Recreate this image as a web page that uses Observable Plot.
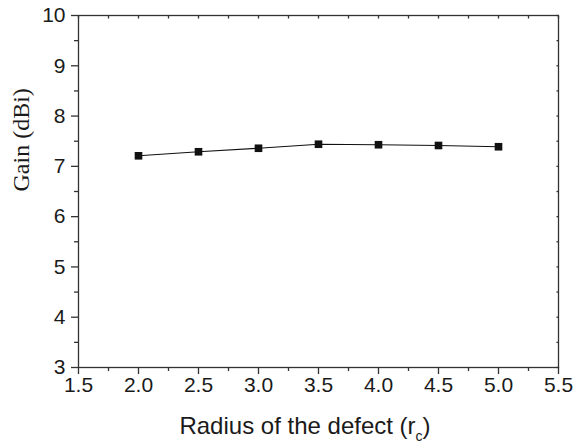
<!DOCTYPE html>
<html>
<head>
<meta charset="utf-8">
<script src="https://cdn.jsdelivr.net/npm/d3@7"></script>
<script src="https://cdn.jsdelivr.net/npm/@observablehq/plot@0.6"></script>
<style>
  html, body { margin: 0; padding: 0; background: #fff; }
  #chart svg { display: block; }
</style>
</head>
<body>
<div id="chart"></div>
<script>
const radius = [2.0, 2.5, 3.0, 3.5, 4.0, 4.5, 5.0];
const gain = [7.21, 7.29, 7.36, 7.44, 7.43, 7.415, 7.39];
const xMajor = [1.5, 2.0, 2.5, 3.0, 3.5, 4.0, 4.5, 5.0, 5.5];
const xMinor = [1.75, 2.25, 2.75, 3.25, 3.75, 4.25, 4.75, 5.25];
const yMajor = [3, 4, 5, 6, 7, 8, 9, 10];
const yMinor = [3.5, 4.5, 5.5, 6.5, 7.5, 8.5, 9.5];
const xLabel = "Radius of the defect (r";
const xLabelSub = "c";
const yLabel = "Gain (dBi)";

const data = radius.map((r, i) => ({r, g: gain[i]}));
const font = "'Liberation Sans', Arial, sans-serif";
const axisColor = "#333";

const plot = Plot.plot({
  width: 574,
  height: 447,
  marginLeft: 78,
  marginRight: 16,
  marginTop: 15,
  marginBottom: 80,
  style: {fontFamily: font, background: "#fff", color: "#1a1a1a"},
  x: {domain: [1.5, 5.5]},
  y: {domain: [3, 10]},
  marks: [
    Plot.frame({stroke: axisColor, strokeWidth: 1.3}),
    Plot.axisX({ticks: xMajor, tickSize: 7, tickPadding: 3, tickFormat: d3.format(".1f"), fontSize: 21, label: null, stroke: axisColor, strokeWidth: 1.3, fill: "#1a1a1a"}),
    Plot.axisX({ticks: xMinor, tickSize: 4, text: null, label: null, stroke: axisColor, strokeWidth: 1.3}),
    Plot.axisX({anchor: "top", ticks: xMajor.concat(xMinor), tickSize: -2.5, text: null, label: null, stroke: axisColor, strokeWidth: 1.3}),
    Plot.axisY({ticks: yMajor, tickSize: 7, tickPadding: 6, tickFormat: d3.format("d"), fontSize: 21, label: null, stroke: axisColor, strokeWidth: 1.3, fill: "#1a1a1a"}),
    Plot.axisY({ticks: yMinor, tickSize: 4, text: null, label: null, stroke: axisColor, strokeWidth: 1.3}),
    Plot.axisY({anchor: "right", ticks: yMajor.concat(yMinor), tickSize: -2.5, text: null, label: null, stroke: axisColor, strokeWidth: 1.3}),
    Plot.line(data, {x: "r", y: "g", stroke: "#111", strokeWidth: 1.1}),
    Plot.dot(data, {x: "r", y: "g", symbol: "square", r: 4.3, fill: "#111", stroke: "none"}),
    Plot.text([yLabel], {frameAnchor: "left", dx: -57, rotate: -90, fontFamily: "'Liberation Serif', 'Times New Roman', serif", fontSize: 24, fill: "#1a1a1a"})
  ]
});

// X axis title with subscript
const svg = d3.select(plot);
const t = svg.append("text")
  .attr("x", 305)
  .attr("y", 434)
  .attr("text-anchor", "middle")
  .attr("font-family", font)
  .attr("font-size", 24)
  .attr("fill", "#1a1a1a");
t.append("tspan").text(xLabel);
t.append("tspan").attr("font-size", 14).attr("dy", 7).text(xLabelSub);
t.append("tspan").attr("dy", -7).text(")");

document.getElementById("chart").appendChild(plot);
</script>
</body>
</html>
